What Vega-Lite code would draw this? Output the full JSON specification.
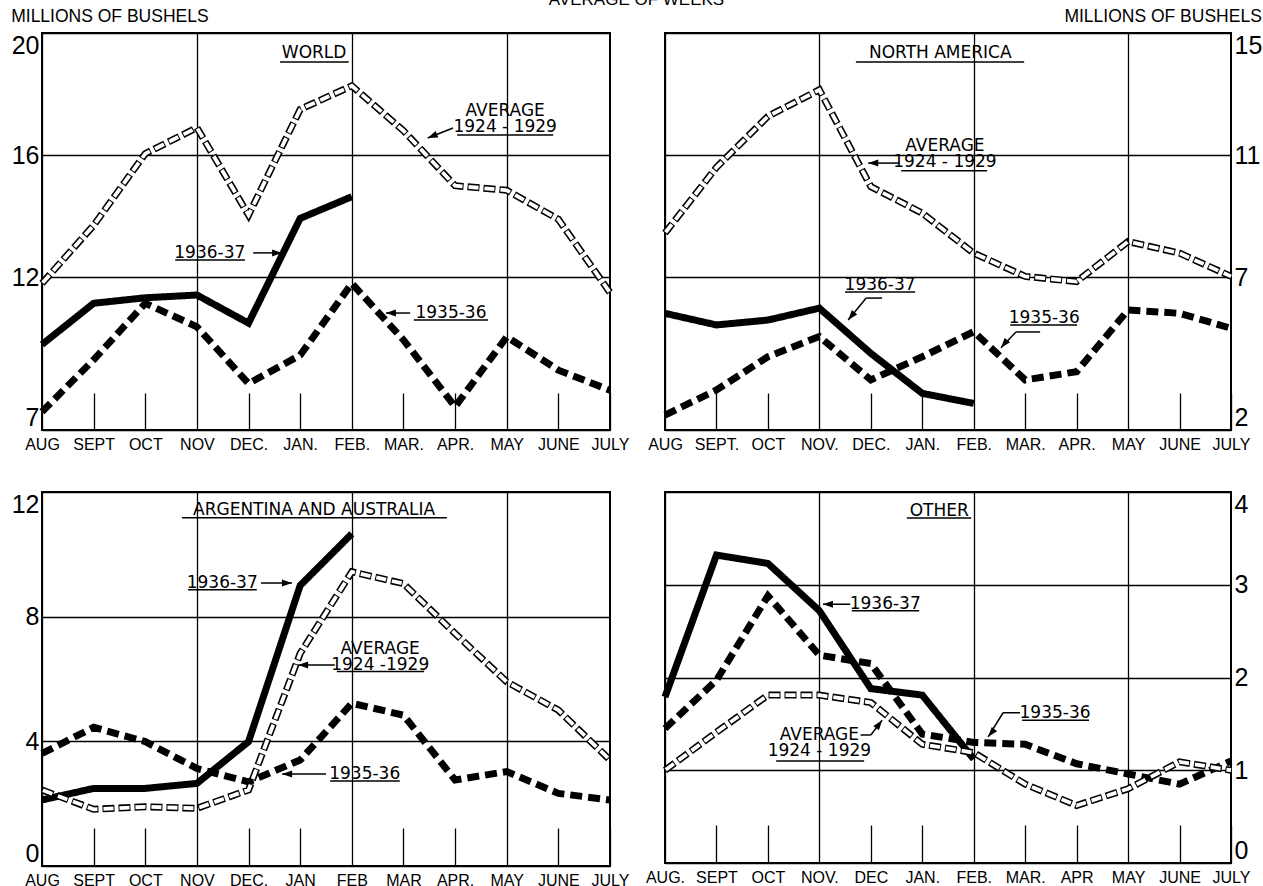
{
"$schema": "https://vega.github.io/schema/vega-lite/v6.json",
"background": "white",
"padding": {"left": 10, "top": -10, "right": 2, "bottom": 2},
"title": {"text": "AVERAGE OF WEEKS", "anchor": "middle", "offset": -2, "fontSize": 17, "fontWeight": "normal"},
"datasets": {
"series": [
{"p":"W","s":"1936-37","m":0,"v":9.8},{"p":"W","s":"1936-37","m":1,"v":11.15},{"p":"W","s":"1936-37","m":2,"v":11.33},{"p":"W","s":"1936-37","m":3,"v":11.42},{"p":"W","s":"1936-37","m":4,"v":10.5},{"p":"W","s":"1936-37","m":5,"v":13.93},{"p":"W","s":"1936-37","m":6,"v":14.64},
{"p":"W","s":"1935-36","m":0,"v":7.6},{"p":"W","s":"1935-36","m":1,"v":9.3},{"p":"W","s":"1935-36","m":2,"v":11.15},{"p":"W","s":"1935-36","m":3,"v":10.38},{"p":"W","s":"1935-36","m":4,"v":8.52},{"p":"W","s":"1935-36","m":5,"v":9.45},{"p":"W","s":"1935-36","m":6,"v":11.8},{"p":"W","s":"1935-36","m":7,"v":9.95},{"p":"W","s":"1935-36","m":8,"v":7.76},{"p":"W","s":"1935-36","m":9,"v":10.05},{"p":"W","s":"1935-36","m":10,"v":8.96},{"p":"W","s":"1935-36","m":11,"v":8.3},
{"p":"W","s":"avg","m":0,"v":11.8},{"p":"W","s":"avg","m":1,"v":13.7},{"p":"W","s":"avg","m":2,"v":16.05},{"p":"W","s":"avg","m":3,"v":16.9},{"p":"W","s":"avg","m":4,"v":14.04},{"p":"W","s":"avg","m":5,"v":17.5},{"p":"W","s":"avg","m":6,"v":18.27},{"p":"W","s":"avg","m":7,"v":16.8},{"p":"W","s":"avg","m":8,"v":15.0},{"p":"W","s":"avg","m":9,"v":14.85},{"p":"W","s":"avg","m":10,"v":13.9},{"p":"W","s":"avg","m":11,"v":11.5},
{"p":"NA","s":"1936-37","m":0,"v":5.82},{"p":"NA","s":"1936-37","m":1,"v":5.44},{"p":"NA","s":"1936-37","m":2,"v":5.6},{"p":"NA","s":"1936-37","m":3,"v":5.99},{"p":"NA","s":"1936-37","m":4,"v":4.51},{"p":"NA","s":"1936-37","m":5,"v":3.2},{"p":"NA","s":"1936-37","m":6,"v":2.87},
{"p":"NA","s":"1935-36","m":0,"v":2.49},{"p":"NA","s":"1935-36","m":1,"v":3.31},{"p":"NA","s":"1935-36","m":2,"v":4.4},{"p":"NA","s":"1935-36","m":3,"v":5.06},{"p":"NA","s":"1935-36","m":4,"v":3.64},{"p":"NA","s":"1935-36","m":5,"v":4.4},{"p":"NA","s":"1935-36","m":6,"v":5.22},{"p":"NA","s":"1935-36","m":7,"v":3.64},{"p":"NA","s":"1935-36","m":8,"v":3.91},{"p":"NA","s":"1935-36","m":9,"v":5.93},{"p":"NA","s":"1935-36","m":10,"v":5.82},{"p":"NA","s":"1935-36","m":11,"v":5.33},
{"p":"NA","s":"avg","m":0,"v":8.45},{"p":"NA","s":"avg","m":1,"v":10.6},{"p":"NA","s":"avg","m":2,"v":12.27},{"p":"NA","s":"avg","m":3,"v":13.14},{"p":"NA","s":"avg","m":4,"v":9.97},{"p":"NA","s":"avg","m":5,"v":9.1},{"p":"NA","s":"avg","m":6,"v":7.79},{"p":"NA","s":"avg","m":7,"v":7.03},{"p":"NA","s":"avg","m":8,"v":6.86},{"p":"NA","s":"avg","m":9,"v":8.17},{"p":"NA","s":"avg","m":10,"v":7.79},{"p":"NA","s":"avg","m":11,"v":7.03},
{"p":"AA","s":"1936-37","m":0,"v":2.12},{"p":"AA","s":"1936-37","m":1,"v":2.49},{"p":"AA","s":"1936-37","m":2,"v":2.49},{"p":"AA","s":"1936-37","m":3,"v":2.65},{"p":"AA","s":"1936-37","m":4,"v":3.99},{"p":"AA","s":"1936-37","m":5,"v":9.0},{"p":"AA","s":"1936-37","m":6,"v":10.66},
{"p":"AA","s":"1935-36","m":0,"v":3.61},{"p":"AA","s":"1935-36","m":1,"v":4.45},{"p":"AA","s":"1935-36","m":2,"v":3.99},{"p":"AA","s":"1935-36","m":3,"v":3.13},{"p":"AA","s":"1935-36","m":4,"v":2.7},{"p":"AA","s":"1935-36","m":5,"v":3.4},{"p":"AA","s":"1935-36","m":6,"v":5.22},{"p":"AA","s":"1935-36","m":7,"v":4.84},{"p":"AA","s":"1935-36","m":8,"v":2.76},{"p":"AA","s":"1935-36","m":9,"v":3.03},{"p":"AA","s":"1935-36","m":10,"v":2.33},{"p":"AA","s":"1935-36","m":11,"v":2.12},
{"p":"AA","s":"avg","m":0,"v":2.44},{"p":"AA","s":"avg","m":1,"v":1.82},{"p":"AA","s":"avg","m":2,"v":1.9},{"p":"AA","s":"avg","m":3,"v":1.85},{"p":"AA","s":"avg","m":4,"v":2.44},{"p":"AA","s":"avg","m":5,"v":6.82},{"p":"AA","s":"avg","m":6,"v":9.44},{"p":"AA","s":"avg","m":7,"v":9.06},{"p":"AA","s":"avg","m":8,"v":7.46},{"p":"AA","s":"avg","m":9,"v":5.91},{"p":"AA","s":"avg","m":10,"v":5.0},{"p":"AA","s":"avg","m":11,"v":3.4},
{"p":"O","s":"1936-37","m":0,"v":1.79},{"p":"O","s":"1936-37","m":1,"v":3.32},{"p":"O","s":"1936-37","m":2,"v":3.23},{"p":"O","s":"1936-37","m":3,"v":2.72},{"p":"O","s":"1936-37","m":4,"v":1.88},{"p":"O","s":"1936-37","m":5,"v":1.81},{"p":"O","s":"1936-37","m":6,"v":1.12},
{"p":"O","s":"1935-36","m":0,"v":1.45},{"p":"O","s":"1935-36","m":1,"v":1.97},{"p":"O","s":"1935-36","m":2,"v":2.88},{"p":"O","s":"1935-36","m":3,"v":2.24},{"p":"O","s":"1935-36","m":4,"v":2.15},{"p":"O","s":"1935-36","m":5,"v":1.39},{"p":"O","s":"1935-36","m":6,"v":1.3},{"p":"O","s":"1935-36","m":7,"v":1.28},{"p":"O","s":"1935-36","m":8,"v":1.07},{"p":"O","s":"1935-36","m":9,"v":0.96},{"p":"O","s":"1935-36","m":10,"v":0.85},{"p":"O","s":"1935-36","m":11,"v":1.1},
{"p":"O","s":"avg","m":0,"v":1.0},{"p":"O","s":"avg","m":1,"v":1.41},{"p":"O","s":"avg","m":2,"v":1.81},{"p":"O","s":"avg","m":3,"v":1.81},{"p":"O","s":"avg","m":4,"v":1.73},{"p":"O","s":"avg","m":5,"v":1.28},{"p":"O","s":"avg","m":6,"v":1.19},{"p":"O","s":"avg","m":7,"v":0.85},{"p":"O","s":"avg","m":8,"v":0.62},{"p":"O","s":"avg","m":9,"v":0.8},{"p":"O","s":"avg","m":10,"v":1.09},{"p":"O","s":"avg","m":11,"v":1.0}
],
"ann": [
{"p":"W","k":"txt","t":["WORLD"],"m":5.27,"v":19.35},
{"p":"W","k":"txt","t":["AVERAGE","1924 - 1929"],"m":8.97,"v":17.43},
{"p":"W","k":"txt","t":["1936-37"],"m":3.25,"v":12.8},
{"p":"W","k":"txt","t":["1935-36"],"m":7.92,"v":10.83},
{"p":"W","k":"seg","m":4.61,"v":19.05,"m2":5.94,"v2":19.05},
{"p":"W","k":"seg","m":8.04,"v":16.66,"m2":9.9,"v2":16.66},
{"p":"W","k":"seg","m":2.58,"v":12.57,"m2":3.93,"v2":12.57},
{"p":"W","k":"seg","m":7.2,"v":10.6,"m2":8.64,"v2":10.6},
{"p":"W","k":"seg","m":7.96,"v":16.89,"m2":7.47,"v2":16.56},
{"p":"W","k":"seg","m":4.09,"v":12.8,"m2":4.65,"v2":12.8},
{"p":"W","k":"seg","m":7.13,"v":10.83,"m2":6.66,"v2":10.83},
{"p":"W","k":"head","d":"dlflat","m":7.47,"v":16.56},
{"p":"W","k":"head","d":"right","m":4.65,"v":12.8},
{"p":"W","k":"head","d":"left","m":6.66,"v":10.83},
{"p":"NA","k":"txt","t":["NORTH AMERICA"],"m":5.35,"v":14.33},
{"p":"NA","k":"txt","t":["AVERAGE","1924 - 1929"],"m":5.44,"v":11.29},
{"p":"NA","k":"txt","t":["1936-37"],"m":4.18,"v":6.75},
{"p":"NA","k":"txt","t":["1935-36"],"m":7.37,"v":5.67},
{"p":"NA","k":"seg","m":3.71,"v":14.05,"m2":6.98,"v2":14.05},
{"p":"NA","k":"seg","m":4.59,"v":10.49,"m2":6.26,"v2":10.49},
{"p":"NA","k":"seg","m":3.5,"v":6.52,"m2":4.86,"v2":6.52},
{"p":"NA","k":"seg","m":6.71,"v":5.44,"m2":8.01,"v2":5.44},
{"p":"NA","k":"seg","m":4.55,"v":10.74,"m2":3.95,"v2":10.74},
{"p":"NA","k":"seg","m":4.22,"v":6.32,"m2":3.91,"v2":6.32},
{"p":"NA","k":"seg","m":3.91,"v":6.32,"m2":3.56,"v2":5.6},
{"p":"NA","k":"seg","m":7.29,"v":5.21,"m2":6.82,"v2":5.21},
{"p":"NA","k":"seg","m":6.82,"v":5.21,"m2":6.53,"v2":4.69},
{"p":"NA","k":"head","d":"left","m":3.95,"v":10.74},
{"p":"NA","k":"head","d":"dl","m":3.56,"v":5.6},
{"p":"NA","k":"head","d":"dl","m":6.53,"v":4.69},
{"p":"AA","k":"txt","t":["ARGENTINA AND AUSTRALIA"],"m":5.27,"v":11.42},
{"p":"AA","k":"txt","t":["1936-37"],"m":3.49,"v":9.08},
{"p":"AA","k":"txt","t":["AVERAGE","1924 -1929"],"m":6.55,"v":6.97},
{"p":"AA","k":"txt","t":["1935-36"],"m":6.25,"v":2.95},
{"p":"AA","k":"seg","m":2.71,"v":11.17,"m2":7.84,"v2":11.17},
{"p":"AA","k":"seg","m":2.83,"v":8.86,"m2":4.16,"v2":8.86},
{"p":"AA","k":"seg","m":5.71,"v":6.24,"m2":7.4,"v2":6.24},
{"p":"AA","k":"seg","m":5.58,"v":2.73,"m2":6.93,"v2":2.73},
{"p":"AA","k":"seg","m":4.24,"v":9.08,"m2":4.84,"v2":9.08},
{"p":"AA","k":"seg","m":5.67,"v":6.45,"m2":4.96,"v2":6.45},
{"p":"AA","k":"seg","m":5.5,"v":2.95,"m2":4.65,"v2":2.95},
{"p":"AA","k":"head","d":"right","m":4.84,"v":9.08},
{"p":"AA","k":"head","d":"left","m":4.96,"v":6.45},
{"p":"AA","k":"head","d":"left","m":4.65,"v":2.95},
{"p":"O","k":"txt","t":["OTHER"],"m":5.33,"v":3.8},
{"p":"O","k":"txt","t":["1936-37"],"m":4.28,"v":2.79},
{"p":"O","k":"txt","t":["1935-36"],"m":7.58,"v":1.62},
{"p":"O","k":"txt","t":["AVERAGE","1924 - 1929"],"m":3.0,"v":1.38},
{"p":"O","k":"seg","m":4.7,"v":3.72,"m2":5.95,"v2":3.72},
{"p":"O","k":"seg","m":3.63,"v":2.72,"m2":4.94,"v2":2.72},
{"p":"O","k":"seg","m":6.94,"v":1.54,"m2":8.24,"v2":1.54},
{"p":"O","k":"seg","m":2.16,"v":1.1,"m2":3.87,"v2":1.1},
{"p":"O","k":"seg","m":3.6,"v":2.79,"m2":3.07,"v2":2.79},
{"p":"O","k":"seg","m":6.9,"v":1.62,"m2":6.57,"v2":1.62},
{"p":"O","k":"seg","m":6.57,"v":1.62,"m2":6.28,"v2":1.36},
{"p":"O","k":"seg","m":3.8,"v":1.38,"m2":4.0,"v2":1.38},
{"p":"O","k":"seg","m":4.0,"v":1.38,"m2":4.22,"v2":1.54},
{"p":"O","k":"head","d":"left","m":3.07,"v":2.79},
{"p":"O","k":"head","d":"dl","m":6.28,"v":1.36},
{"p":"O","k":"head","d":"ur","m":4.22,"v":1.54}
]
},
"columns": 2,
"spacing": {"row": 62, "column": 55},
"bounds": "flush",
"concat": [
{
"width": 568, "height": 397,
"title": {"text": "MILLIONS OF BUSHELS", "anchor": "start", "frame": "bounds", "offset": 8},
"encoding": {
"x": {"field": "m", "type": "quantitative", "scale": {"domain": [0, 11], "nice": false, "zero": false}, "axis": {"values": [0,1,2,3,4,5,6,7,8,9,10,11], "labelExpr": "['AUG','SEPT','OCT','NOV','DEC.','JAN.','FEB.','MAR.','APR.','MAY','JUNE','JULY'][datum.value]", "title": null, "gridDash": {"condition": {"test": "datum.value % 3 != 0", "value": [0, 360, 37, 1000]}, "value": [1, 0]}}},
"y": {"field": "v", "type": "quantitative", "scale": {"domain": [7, 20], "nice": false, "zero": false}, "axis": {"values": [7, 12, 16, 20], "title": null, "orient": "left", "labelFlush": true}}
},
"layer": [
{"data": {"name": "series"}, "transform": [{"filter": "datum.p=='W'"}], "mark": {"type": "line", "color": "black", "strokeWidth": 7}, "encoding": {"strokeDash": {"field": "s", "type": "nominal", "scale": {"domain": ["1936-37", "1935-36", "avg"], "range": [[1, 0], [12, 6], [12, 4]]}, "legend": null}}},
{"data": {"name": "series"}, "transform": [{"filter": "datum.p=='W' && datum.s=='avg'"}], "mark": {"type": "line", "color": "white", "strokeWidth": 3.8, "strokeDash": [10, 6], "strokeDashOffset": -1}},
{"data": {"name": "ann"}, "transform": [{"filter": "datum.p=='W' && datum.k=='seg'"}], "mark": {"type": "rule", "color": "black", "strokeWidth": 1.5}, "encoding": {"x2": {"field": "m2"}, "y2": {"field": "v2"}}},
{"data": {"name": "ann"}, "transform": [{"filter": "datum.p=='W' && datum.k=='txt'"}], "mark": {"type": "text", "align": "center", "baseline": "middle", "color": "black", "lineHeight": 16}, "encoding": {"text": {"field": "t"}}},
{"data": {"name": "ann"}, "transform": [{"filter": "datum.p=='W' && datum.k=='head'"}], "mark": {"type": "point", "filled": true, "color": "black", "opacity": 1, "size": 100, "strokeWidth": 0}, "encoding": {"shape": {"field": "d", "type": "nominal", "scale": {"domain": ["right", "left", "dl", "dlflat", "ur"], "range": ["M0,0L-2,-0.7L-2,0.7Z", "M0,0L2,-0.7L2,0.7Z", "M0,0L1.81,-1.11L0.73,-1.99Z", "M0,0L2.12,-0.12L1.58,-1.4Z", "M0,0L-0.64,2.02L-1.76,1.18Z"]}, "legend": null}}}
]
},
{
"width": 566, "height": 397,
"title": {"text": "MILLIONS OF BUSHELS", "anchor": "end", "frame": "bounds", "offset": 8},
"encoding": {
"x": {"field": "m", "type": "quantitative", "scale": {"domain": [0, 11], "nice": false, "zero": false}, "axis": {"values": [0,1,2,3,4,5,6,7,8,9,10,11], "labelExpr": "['AUG','SEPT.','OCT','NOV.','DEC.','JAN.','FEB.','MAR.','APR.','MAY','JUNE','JULY'][datum.value]", "title": null, "gridDash": {"condition": {"test": "datum.value % 3 != 0", "value": [0, 360, 37, 1000]}, "value": [1, 0]}}},
"y": {"field": "v", "type": "quantitative", "scale": {"domain": [2, 15], "nice": false, "zero": false}, "axis": {"values": [2, 7, 11, 15], "title": null, "orient": "right", "labelFlush": true}}
},
"layer": [
{"data": {"name": "series"}, "transform": [{"filter": "datum.p=='NA'"}], "mark": {"type": "line", "color": "black", "strokeWidth": 7}, "encoding": {"strokeDash": {"field": "s", "type": "nominal", "scale": {"domain": ["1936-37", "1935-36", "avg"], "range": [[1, 0], [12, 6], [12, 4]]}, "legend": null}}},
{"data": {"name": "series"}, "transform": [{"filter": "datum.p=='NA' && datum.s=='avg'"}], "mark": {"type": "line", "color": "white", "strokeWidth": 3.8, "strokeDash": [10, 6], "strokeDashOffset": -1}},
{"data": {"name": "ann"}, "transform": [{"filter": "datum.p=='NA' && datum.k=='seg'"}], "mark": {"type": "rule", "color": "black", "strokeWidth": 1.5}, "encoding": {"x2": {"field": "m2"}, "y2": {"field": "v2"}}},
{"data": {"name": "ann"}, "transform": [{"filter": "datum.p=='NA' && datum.k=='txt'"}], "mark": {"type": "text", "align": "center", "baseline": "middle", "color": "black", "lineHeight": 16}, "encoding": {"text": {"field": "t"}}},
{"data": {"name": "ann"}, "transform": [{"filter": "datum.p=='NA' && datum.k=='head'"}], "mark": {"type": "point", "filled": true, "color": "black", "opacity": 1, "size": 100, "strokeWidth": 0}, "encoding": {"shape": {"field": "d", "type": "nominal", "scale": {"domain": ["right", "left", "dl", "dlflat", "ur"], "range": ["M0,0L-2,-0.7L-2,0.7Z", "M0,0L2,-0.7L2,0.7Z", "M0,0L1.81,-1.11L0.73,-1.99Z", "M0,0L2.12,-0.12L1.58,-1.4Z", "M0,0L-0.64,2.02L-1.76,1.18Z"]}, "legend": null}}}
]
},
{
"width": 568, "height": 374,
"encoding": {
"x": {"field": "m", "type": "quantitative", "scale": {"domain": [0, 11], "nice": false, "zero": false}, "axis": {"values": [0,1,2,3,4,5,6,7,8,9,10,11], "labelExpr": "['AUG','SEPT','OCT','NOV','DEC.','JAN','FEB','MAR','APR.','MAY','JUNE','JULY'][datum.value]", "title": null, "gridDash": {"condition": {"test": "datum.value % 3 != 0", "value": [0, 336, 38, 1000]}, "value": [1, 0]}}},
"y": {"field": "v", "type": "quantitative", "scale": {"domain": [0, 12], "nice": false, "zero": false}, "axis": {"values": [0, 4, 8, 12], "title": null, "orient": "left", "labelFlush": true}}
},
"layer": [
{"data": {"name": "series"}, "transform": [{"filter": "datum.p=='AA'"}], "mark": {"type": "line", "color": "black", "strokeWidth": 7}, "encoding": {"strokeDash": {"field": "s", "type": "nominal", "scale": {"domain": ["1936-37", "1935-36", "avg"], "range": [[1, 0], [12, 6], [12, 4]]}, "legend": null}}},
{"data": {"name": "series"}, "transform": [{"filter": "datum.p=='AA' && datum.s=='avg'"}], "mark": {"type": "line", "color": "white", "strokeWidth": 3.8, "strokeDash": [10, 6], "strokeDashOffset": -1}},
{"data": {"name": "ann"}, "transform": [{"filter": "datum.p=='AA' && datum.k=='seg'"}], "mark": {"type": "rule", "color": "black", "strokeWidth": 1.5}, "encoding": {"x2": {"field": "m2"}, "y2": {"field": "v2"}}},
{"data": {"name": "ann"}, "transform": [{"filter": "datum.p=='AA' && datum.k=='txt'"}], "mark": {"type": "text", "align": "center", "baseline": "middle", "color": "black", "lineHeight": 16}, "encoding": {"text": {"field": "t"}}},
{"data": {"name": "ann"}, "transform": [{"filter": "datum.p=='AA' && datum.k=='head'"}], "mark": {"type": "point", "filled": true, "color": "black", "opacity": 1, "size": 100, "strokeWidth": 0}, "encoding": {"shape": {"field": "d", "type": "nominal", "scale": {"domain": ["right", "left", "dl", "dlflat", "ur"], "range": ["M0,0L-2,-0.7L-2,0.7Z", "M0,0L2,-0.7L2,0.7Z", "M0,0L1.81,-1.11L0.73,-1.99Z", "M0,0L2.12,-0.12L1.58,-1.4Z", "M0,0L-0.64,2.02L-1.76,1.18Z"]}, "legend": null}}}
]
},
{
"width": 566, "height": 371,
"encoding": {
"x": {"field": "m", "type": "quantitative", "scale": {"domain": [0, 11], "nice": false, "zero": false}, "axis": {"values": [0,1,2,3,4,5,6,7,8,9,10,11], "labelExpr": "['AUG.','SEPT','OCT','NOV.','DEC','JAN.','FEB.','MAR.','APR','MAY','JUNE','JULY'][datum.value]", "title": null, "gridDash": {"condition": {"test": "datum.value % 3 != 0", "value": [0, 333, 38, 1000]}, "value": [1, 0]}}},
"y": {"field": "v", "type": "quantitative", "scale": {"domain": [0, 4], "nice": false, "zero": false}, "axis": {"values": [0, 1, 2, 3, 4], "title": null, "orient": "right", "labelFlush": true}}
},
"layer": [
{"data": {"name": "series"}, "transform": [{"filter": "datum.p=='O'"}], "mark": {"type": "line", "color": "black", "strokeWidth": 7}, "encoding": {"strokeDash": {"field": "s", "type": "nominal", "scale": {"domain": ["1936-37", "1935-36", "avg"], "range": [[1, 0], [12, 6], [12, 4]]}, "legend": null}}},
{"data": {"name": "series"}, "transform": [{"filter": "datum.p=='O' && datum.s=='avg'"}], "mark": {"type": "line", "color": "white", "strokeWidth": 3.8, "strokeDash": [10, 6], "strokeDashOffset": -1}},
{"data": {"name": "ann"}, "transform": [{"filter": "datum.p=='O' && datum.k=='seg'"}], "mark": {"type": "rule", "color": "black", "strokeWidth": 1.5}, "encoding": {"x2": {"field": "m2"}, "y2": {"field": "v2"}}},
{"data": {"name": "ann"}, "transform": [{"filter": "datum.p=='O' && datum.k=='txt'"}], "mark": {"type": "text", "align": "center", "baseline": "middle", "color": "black", "lineHeight": 16}, "encoding": {"text": {"field": "t"}}},
{"data": {"name": "ann"}, "transform": [{"filter": "datum.p=='O' && datum.k=='head'"}], "mark": {"type": "point", "filled": true, "color": "black", "opacity": 1, "size": 100, "strokeWidth": 0}, "encoding": {"shape": {"field": "d", "type": "nominal", "scale": {"domain": ["right", "left", "dl", "dlflat", "ur"], "range": ["M0,0L-2,-0.7L-2,0.7Z", "M0,0L2,-0.7L2,0.7Z", "M0,0L1.81,-1.11L0.73,-1.99Z", "M0,0L2.12,-0.12L1.58,-1.4Z", "M0,0L-0.64,2.02L-1.76,1.18Z"]}, "legend": null}}}
]
}
],
"config": {
"font": "Liberation Sans",
"view": {"stroke": "black", "strokeWidth": 2},
"axis": {"domain": false, "ticks": false, "grid": true, "gridColor": "black", "gridWidth": 1.3, "gridOpacity": 1, "labelColor": "black", "labelFont": "Liberation Sans"},
"axisX": {"labelFontSize": 16, "labelPadding": 6, "labelFlush": false},
"axisY": {"labelFont": "Liberation Sans", "labelFontSize": 25, "labelPadding": 3},
"title": {"fontWeight": "normal", "fontSize": 17.5, "color": "black", "font": "Liberation Sans"},
"text": {"font": "DejaVu Sans", "fontSize": 17}
}
}
